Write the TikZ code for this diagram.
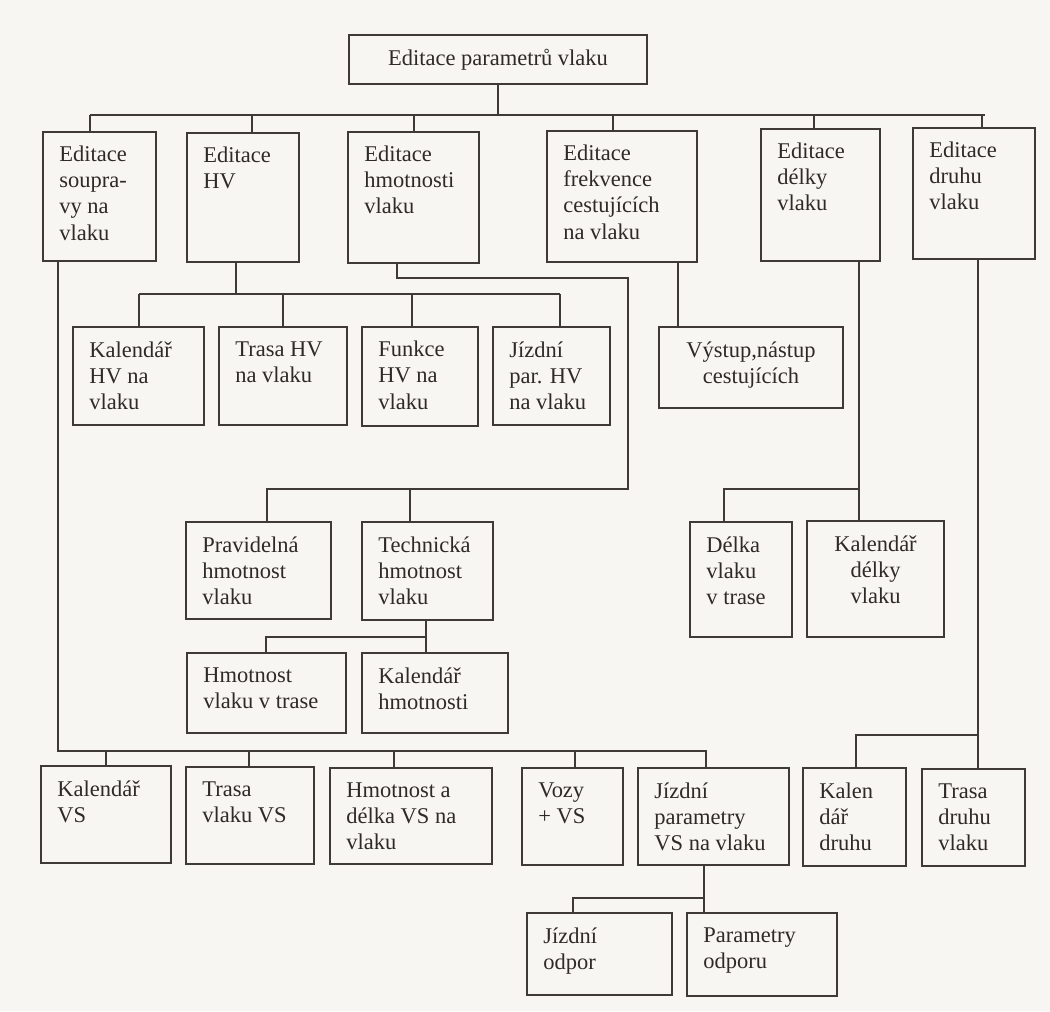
\documentclass[tikz,border=0pt]{standalone}
\usepackage{fontspec}
\setmainfont{Liberation Serif}
\usetikzlibrary{fit}

\definecolor{paper}{HTML}{F7F6F2}
\definecolor{ink}{HTML}{3F3A35}
\definecolor{inktext}{HTML}{2F2A26}

\begin{document}
\begin{tikzpicture}[
    x=0.02cm, y=-0.02cm,
    box/.style={draw=ink, line width=1.1pt, inner sep=0pt},
    txt/.style={anchor=north west, align=left, inner xsep=0.34cm, inner ysep=0.3cm,
        text=inktext, font=\fontsize{12.8}{14.8}\selectfont},
    txtm/.style={txt, anchor=north, align=center},
    txtc/.style={txt, anchor=center, align=center},
    link/.style={draw=ink, line width=1.1pt}
]

% page
\fill[paper] (0,0) rectangle (1050,1011);
\useasboundingbox (0,0) rectangle (1050,1011);

% -------------------------
% Boxes
% -------------------------

% root
\node[box, fit={(349,35) (647,84)}, label={[txtc]center:{Editace parametrů vlaku}}] (top) {};

% first level
\node[box, fit={(43,132) (156,261)}, label={[txt]north west:{Editace\\soupra-\\vy na\\vlaku}}] (e1) {};
\node[box, fit={(187,133) (299,262)}, label={[txt]north west:{Editace\\HV}}] (e2) {};
\node[box, fit={(348,132) (479,263)}, label={[txt]north west:{Editace\\hmotnosti\\vlaku}}] (e3) {};
\node[box, fit={(547,131) (697,262)}, label={[txt]north west:{Editace\\frekvence\\cestujících\\na vlaku}}] (e4) {};
\node[box, fit={(761,129) (880,261)}, label={[txt]north west:{Editace\\délky\\vlaku}}] (e5) {};
\node[box, fit={(913,128) (1035,259)}, label={[txt]north west:{Editace\\druhu\\vlaku}}] (e6) {};

% HV
\node[box, fit={(73,327) (204,425)}, label={[txt]north west:{Kalendář\\HV na\\vlaku}}] (k1) {};
\node[box, fit={(219,327) (347,425)}, label={[txt]north west:{Trasa HV\\na vlaku}}] (k2) {};
\node[box, fit={(362,327) (478,426)}, label={[txt]north west:{Funkce\\HV na\\vlaku}}] (k3) {};
\node[box, fit={(493,327) (610,425)}, label={[txt]north west:{Jízdní\\par. HV\\na vlaku}}] (k4) {};

% frekvence
\node[box, fit={(659,327) (843,408)}, label={[txtm]north:{Výstup,nástup\\cestujících}}] (v1) {};

% hmotnost
\node[box, fit={(186,522) (331,619)}, label={[txt]north west:{Pravidelná\\hmotnost\\vlaku}}] (p1) {};
\node[box, fit={(362,522) (493,620)}, label={[txt]north west:{Technická\\hmotnost\\vlaku}}] (p2) {};
\node[box, fit={(187,653) (346,733)}, label={[txt]north west:{Hmotnost\\vlaku v trase}}] (h1) {};
\node[box, fit={(362,653) (508,733)}, label={[txt]north west:{Kalendář\\hmotnosti}}] (h2) {};

% delka
\node[box, fit={(690,522) (792,637)}, label={[txt]north west:{Délka\\vlaku\\v trase}}] (d1) {};
\node[box, fit={(807,521) (944,637)}, label={[txtm]north:{Kalendář\\délky\\vlaku}}] (d2) {};

% souprava
\node[box, fit={(41,766) (171,863)}, label={[txt]north west:{Kalendář\\VS}}] (s1) {};
\node[box, fit={(186,767) (314,864)}, label={[txt]north west:{Trasa\\vlaku VS}}] (s2) {};
\node[box, fit={(330,768) (492,864)}, label={[txt]north west:{Hmotnost a\\délka VS na\\vlaku}}] (s3) {};
\node[box, fit={(522,768) (623,865)}, label={[txt]north west:{Vozy\\+ VS}}] (s4) {};
\node[box, fit={(638,768) (789,865)}, label={[txt]north west:{Jízdní\\parametry\\VS na vlaku}}] (s5) {};
\node[box, fit={(527,913) (672,995)}, label={[txt]north west:{Jízdní\\odpor}}] (o1) {};
\node[box, fit={(687,913) (837,996)}, label={[txt]north west:{Parametry\\odporu}}] (o2) {};

% druh
\node[box, fit={(803,768) (906,866)}, label={[txt]north west:{Kalen\\dář\\druhu}}] (t1) {};
\node[box, fit={(922,769) (1025,866)}, label={[txt]north west:{Trasa\\druhu\\vlaku}}] (t2) {};

% -------------------------
% Connections
% -------------------------

% root -> first level
\draw[link] (top.south) -- (top.south |- 0,115);
\draw[link] (90,115) -- (985,115);
\foreach \n/\x in {e1/90, e2/252, e3/414, e4/613, e5/814, e6/982}
    \draw[link] (\x,115) -- (\n.north -| \x,0);

% HV
\draw[link] (e2.south -| 236,0) -- (236,294);
\draw[link] (139,294) -- (560,294);
\foreach \n/\x in {k1/139, k2/283, k3/412, k4/560}
    \draw[link] (\x,294) -- (\n.north -| \x,0);

% frekvence
\draw[link] (e4.south -| 678,0) -- (v1.north -| 678,0);

% hmotnost
\draw[link] (e3.south -| 397,0) |- (628,278) |- (267,489) -- (p1.north -| 267,0);
\draw[link] (410,489) -- (p2.north -| 410,0);
\draw[link] (p2.south -| 426,0) -- (h2.north -| 426,0);
\draw[link] (426,637) -| (h1.north -| 266,0);

% delka
\draw[link] (e5.south -| 859,0) -- (d2.north -| 859,0);
\draw[link] (859,489) -| (d1.north -| 724,0);

% souprava
\draw[link] (e1.south -| 58,0) |- (706,751) -- (s5.north -| 706,0);
\foreach \n/\x in {s1/106, s2/249, s3/394, s4/575}
    \draw[link] (\x,751) -- (\n.north -| \x,0);
\draw[link] (s5.south -| 704,0) -- (o2.north -| 704,0);
\draw[link] (704,898) -| (o1.north -| 573,0);

% druh
\draw[link] (e6.south -| 978,0) -- (t2.north -| 978,0);
\draw[link] (978,735) -| (t1.north -| 856,0);

\end{tikzpicture}
\end{document}
